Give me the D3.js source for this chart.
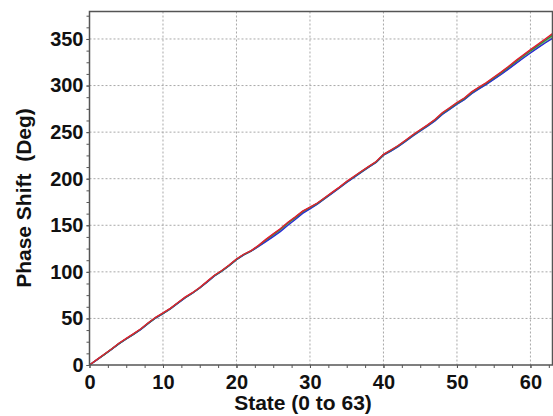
<!DOCTYPE html>
<html><head><meta charset="utf-8">
<script src="https://cdn.jsdelivr.net/npm/d3@7"></script>
<style>body{margin:0;background:#fff}svg{display:block}text{font-family:"Liberation Sans",Arial,sans-serif;font-weight:bold;fill:#111}</style>
</head><body>
<svg id="c" width="553" height="416"></svg>
<script>
const states = d3.range(0, 64);
const xTicks = [0, 10, 20, 30, 40, 50, 60];
const yTicks = [0, 50, 100, 150, 200, 250, 300, 350];
const seriesNames = ["slate", "lightgreen", "pink", "blue", "green", "red"];
const seriesColors = ["#6f86a8", "#86c08a", "#e27aa6", "#2b2bd6", "#2e8b3a", "#e02030"];
const red = [0,5.8,11.5,17.2,23.4,28.6,33.6,38.9,45.4,51.2,55.9,60.8,66.9,72.8,77.6,83.2,89.8,96.4,101.4,107.3,113.8,118.9,122.8,128.4,134.9,140.8,146.6,153.2,159.0,165.2,169.6,173.9,179.6,185.3,191.0,197.2,202.6,208.0,213.3,218.4,226.2,230.8,235.6,241.3,247.2,252.6,257.8,263.6,270.8,276.2,281.8,286.6,293.2,298.4,303.2,308.9,314.4,320.4,326.8,332.6,338.6,344.2,350.0,355.8];
const green = [0,5.6,11.2,17.0,23.0,28.2,33.2,38.6,45.0,50.8,55.4,60.5,66.6,72.4,77.3,82.9,89.4,96.0,101.0,107.0,113.4,118.6,122.6,128.0,134.2,140.0,145.8,152.4,158.2,164.6,169.0,173.5,179.2,184.9,190.6,196.7,202.1,207.6,212.9,218.0,225.8,230.3,235.2,240.8,246.6,252.0,257.2,263.0,270.0,275.4,281.0,285.9,292.4,297.7,302.5,308.1,313.5,319.4,325.6,331.4,337.3,342.8,348.4,353.8];
const blue = [0,5.5,11.0,16.8,22.7,27.9,32.9,38.3,44.6,50.4,55.1,60.2,66.2,72.0,77.0,82.6,89.0,95.6,100.7,106.6,113.0,118.3,122.3,127.2,132.4,137.8,143.5,150.0,156.2,162.8,167.6,172.6,178.5,184.3,190.0,196.1,201.5,207.0,212.4,217.5,225.2,229.5,234.4,240.0,245.8,251.2,256.4,262.0,269.0,274.4,279.9,284.8,291.3,296.5,301.2,306.6,311.9,317.6,323.6,329.3,335.0,340.5,345.7,350.6];
const pink = [0,5.7,11.4,17.1,23.2,28.4,33.4,38.8,45.2,51.0,55.7,60.7,66.8,72.6,77.5,83.1,89.6,96.2,101.2,107.2,113.6,118.8,122.7,128.2,134.6,140.5,146.2,152.8,158.6,164.9,169.3,173.7,179.4,185.1,190.8,197.0,202.4,207.8,213.1,218.2,226.0,230.6,235.4,241.1,247.0,252.4,257.6,263.4,270.6,276.0,281.6,286.4,293.0,298.2,303.0,308.6,314.1,320.0,326.3,332.1,338.0,343.6,349.3,355.0];
const lightgreen = [0,5.6,11.3,17.0,22.9,28.1,33.1,38.5,44.8,50.6,55.3,60.4,66.4,72.2,77.2,82.8,89.2,95.8,100.9,106.8,113.2,118.5,122.5,127.6,133.4,139.0,144.8,151.4,157.4,163.8,168.4,173.0,178.8,184.6,190.3,196.4,201.8,207.3,212.6,217.7,225.5,229.9,234.8,240.4,246.2,251.6,256.8,262.5,269.5,274.9,280.4,285.3,291.8,297.1,301.8,307.3,312.7,318.5,324.6,330.4,336.2,341.6,347.1,352.2];
const slate = [0,5.5,11.1,16.9,22.8,28.0,33.0,38.4,44.7,50.5,55.2,60.3,66.3,72.1,77.1,82.7,89.1,95.7,100.8,106.7,113.1,118.4,122.4,127.4,133.0,138.5,144.2,150.8,156.9,163.3,168.0,172.8,178.6,184.4,190.1,196.2,201.6,207.1,212.5,217.6,225.3,229.7,234.6,240.2,246.0,251.4,256.6,262.2,269.2,274.6,280.1,285.0,291.5,296.8,301.5,306.9,312.3,318.0,324.0,329.8,335.6,341.0,346.4,351.4];
const seriesData = [slate, lightgreen, pink, blue, green, red];

const svg = d3.select("#c");
const m = {l: 89.5, r: 552.5, t: 11.5, b: 365};
const x = d3.scaleLinear().domain([0, 63]).range([m.l, m.r]);
const y = d3.scaleLinear().domain([0, 379.5]).range([m.b, m.t]);
const FONT = "Liberation Sans, Arial, sans-serif";

// grid
const g = svg.append("g");
g.selectAll("line.vx").data(xTicks.filter(d => d > 0)).join("line")
  .attr("x1", d => x(d)).attr("x2", d => x(d)).attr("y1", m.t).attr("y2", m.b)
  .attr("stroke", "#a8a8a8").attr("stroke-width", 1).attr("stroke-dasharray", "2,2");
g.selectAll("line.hy").data(yTicks.filter(d => d > 0)).join("line")
  .attr("y1", d => y(d)).attr("y2", d => y(d)).attr("x1", m.l).attr("x2", m.r)
  .attr("stroke", "#a8a8a8").attr("stroke-width", 1).attr("stroke-dasharray", "2,2");

// lines
const line = d3.line().x((d, i) => x(states[i])).y(d => y(d));
svg.append("g").selectAll("path").data(seriesData).join("path")
  .attr("d", d => line(d)).attr("fill", "none")
  .attr("stroke", (d, i) => seriesColors[i]).attr("stroke-width", 1.4);

// axes
const xMinor = d3.range(0, 63.01, 2.5);
const yMinor = d3.range(0, 379, 12.5);
const xa = svg.append("g").attr("transform", `translate(0,${m.b})`)
  .call(d3.axisBottom(x).tickValues(xMinor).tickSize(3).tickFormat(""));
xa.select(".domain").remove();
xa.selectAll("line").attr("stroke", "#555");
const xb = svg.append("g").attr("transform", `translate(0,${m.b})`)
  .call(d3.axisBottom(x).tickValues(xTicks).tickSize(3).tickPadding(7).tickFormat(d3.format("d")));
xb.select(".domain").remove();
xb.selectAll("line").attr("stroke", "#555");
xb.selectAll("text").attr("font-size", 20).attr("font-family", FONT).attr("font-weight", "bold").attr("fill", "#111");

const ya = svg.append("g").attr("transform", `translate(${m.l},0)`)
  .call(d3.axisLeft(y).tickValues(yMinor).tickSize(3).tickFormat(""));
ya.select(".domain").remove();
ya.selectAll("line").attr("stroke", "#555");
const yb = svg.append("g").attr("transform", `translate(${m.l},0)`)
  .call(d3.axisLeft(y).tickValues(yTicks).tickSize(3).tickPadding(3).tickFormat(d3.format("d")));
yb.select(".domain").remove();
yb.selectAll("line").attr("stroke", "#555");
yb.selectAll("text").attr("font-size", 20).attr("font-family", FONT).attr("font-weight", "bold").attr("fill", "#111");

// frame
svg.append("rect").attr("x", m.l).attr("y", m.t).attr("width", m.r - m.l).attr("height", m.b - m.t)
  .attr("fill", "none").attr("stroke", "#555").attr("stroke-width", 1.5);

// titles
svg.append("text").attr("x", 303).attr("y", 410).attr("text-anchor", "middle")
  .attr("font-size", 21).text("State (0 to 63)");
svg.append("text").attr("transform", "translate(31,198) rotate(-90)").attr("text-anchor", "middle")
  .attr("font-size", 21).style("white-space", "pre").text("Phase Shift  (Deg)");
</script>
</body></html>
